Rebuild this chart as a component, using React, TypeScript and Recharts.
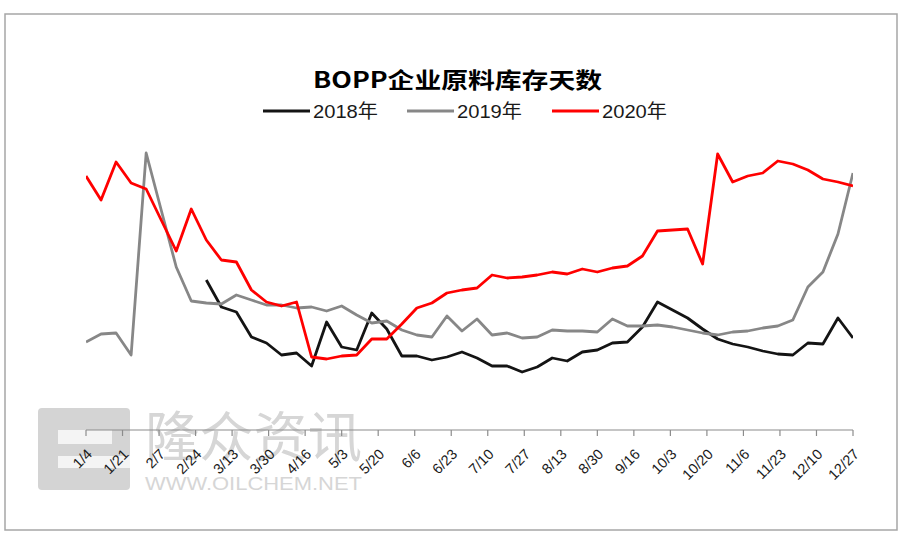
import React from 'react';
import { LineChart, Line, XAxis, YAxis, Legend } from 'recharts';

// weekly observation dates, day-of-year (1/4, 1/11, ... 12/27)
const weekDays: number[] = Array.from({ length: 52 }, (_, i) => 4 + 7 * i);

// BOPP企业原料库存天数 (days)
const series2018: (number | null)[] = [
  null, null, null, null, null, null, null, null,
  7.5, 6.15, 5.9, 4.65, 4.35, 3.75, 3.85, 3.2, 5.4, 4.15, 4.0, 5.85,
  5.05, 3.7, 3.7, 3.5, 3.65, 3.9, 3.6, 3.2, 3.2, 2.9, 3.15, 3.6,
  3.45, 3.9, 4.0, 4.35, 4.4, 5.15, 6.4, 6.0, 5.6, 5.05, 4.55, 4.3,
  4.15, 3.95, 3.8, 3.75, 4.35, 4.3, 5.6, 4.6,
];
const series2019: number[] = [
  4.4, 4.8, 4.85, 3.75, 13.85, 11.0, 8.15, 6.45, 6.35, 6.3, 6.75, 6.5,
  6.25, 6.25, 6.1, 6.15, 5.95, 6.2, 5.75, 5.35, 5.45, 5.0, 4.75, 4.65,
  5.7, 4.95, 5.55, 4.75, 4.85, 4.6, 4.65, 5.0, 4.95, 4.95, 4.9, 5.55,
  5.2, 5.2, 5.25, 5.15, 5.0, 4.85, 4.75, 4.9, 4.95, 5.1, 5.2, 5.5,
  7.15, 7.9, 9.8, 12.85,
];
const series2020: number[] = [
  12.7, 11.5, 13.4, 12.35, 12.05, 10.5, 8.95, 11.05, 9.5, 8.5, 8.4, 7.0,
  6.4, 6.2, 6.4, 3.65, 3.55, 3.7, 3.75, 4.55, 4.55, 5.3, 6.1, 6.35,
  6.85, 7.0, 7.1, 7.75, 7.6, 7.65, 7.75, 7.9, 7.8, 8.05, 7.9, 8.1,
  8.2, 8.7, 9.95, 10.0, 10.05, 8.3, 13.8, 12.4, 12.7, 12.85, 13.45, 13.3,
  13.0, 12.55, 12.4, 12.2,
];

const tickDays: number[] = [4, 21, 38, 55, 72, 89, 106, 123, 140, 157, 174, 191, 208, 225, 242, 259, 276, 293, 310, 327, 344, 361];
const tickLabels: string[] = ['1/4', '1/21', '2/7', '2/24', '3/13', '3/30', '4/16', '5/3', '5/20', '6/6', '6/23', '7/10', '7/27', '8/13', '8/30', '9/16', '10/3', '10/20', '11/6', '11/23', '12/10', '12/27'];

const seriesNames = ['2018年', '2019年', '2020年'];
const seriesColors = ['#141414', '#878787', '#ff0000'];

const data = weekDays.map((d, i) => ({
  day: d,
  y2018: series2018[i],
  y2019: series2019[i],
  y2020: series2020[i],
}));

const labelFor = (v: number) => {
  const idx = tickDays.indexOf(v);
  return idx >= 0 ? tickLabels[idx] : '';
};

const CustomTick = (props: any) => {
  const { x, y, payload } = props;
  return (
    <g transform={`translate(${x + 7},${y + 17})`}>
      <text
        x={0}
        y={0}
        textAnchor="end"
        transform="rotate(-45)"
        fontSize={14.5}
        fontFamily="'Liberation Sans', Arial, sans-serif"
        fill="#1a1a1a"
      >
        {labelFor(payload.value)}
      </text>
    </g>
  );
};

const legendX = [263, 407, 552];

const renderLegend = (props: any) => {
  const payload = props.payload || [];
  return (
    <svg width={912} height={24} style={{ display: 'block' }}>
      {payload.map((p: any, i: number) => (
        <g key={i}>
          <line x1={legendX[i]} x2={legendX[i] + 47} y1={12} y2={12} stroke={p.color} strokeWidth={3} />
          <text
            x={legendX[i] + 50}
            y={12}
            dy="0.36em"
            fontSize={19}
            textLength={65}
            lengthAdjust="spacingAndGlyphs"
            fontFamily="'Liberation Sans', 'Noto Sans CJK SC', sans-serif"
            fill="#1a1a1a"
          >
            {p.value}
          </text>
        </g>
      ))}
    </svg>
  );
};

export default function App() {
  return (
    <div style={{ position: 'absolute', left: 0, top: 0, width: 912, height: 541, background: '#fff' }}>
      <svg width={912} height={541} style={{ position: 'absolute', left: 0, top: 0 }}>
        <rect x={5} y={14} width={892} height={516} fill="#fff" stroke="#a6a6a6" strokeWidth={1.5} />
        {/* watermark */}
        <rect x={38} y={408} width={92} height={82} rx={4} fill="#d4d4d4" />
        <rect x={58} y={430} width={54} height={14} fill="#f4f4f4" />
        <rect x={58} y={456} width={72} height={12} fill="#f4f4f4" />
        <text
          x={145}
          y={457}
          fontSize={54}
          textLength={217}
          lengthAdjust="spacingAndGlyphs"
          fontFamily="'Noto Sans CJK SC', sans-serif"
          fill="#d6d6d6"
        >
          隆众资讯
        </text>
        <text
          x={145}
          y={490}
          fontSize={18}
          textLength={217}
          lengthAdjust="spacingAndGlyphs"
          fontFamily="'Liberation Sans', Arial, sans-serif"
          fill="#d6d6d6"
        >
          WWW.OILCHEM.NET
        </text>
        <text
          x={457.5}
          y={88}
          textAnchor="middle"
          fontSize={22}
          fontWeight="bold"
          textLength={289}
          lengthAdjust="spacingAndGlyphs"
          fontFamily="'Noto Sans CJK SC', sans-serif"
          fill="#000"
        >
          BOPP企业原料库存天数
        </text>
      </svg>
      <div style={{ position: 'absolute', left: 0, top: 0 }}>
        <LineChart
          width={912}
          height={541}
          data={data}
          margin={{ top: 150, right: 59, bottom: 81, left: 86 }}
        >
          <XAxis
            type="number"
            dataKey="day"
            domain={[4, 361]}
            ticks={tickDays}
            interval={0}
            height={30}
            tick={<CustomTick />}
            tickSize={6}
            axisLine={{ stroke: '#8c8c8c', strokeWidth: 1.2 }}
            tickLine={{ stroke: '#8c8c8c', strokeWidth: 1.2 }}
            allowDataOverflow
          />
          <YAxis hide domain={[0, 14]} width={0} />
          <Legend
            layout="horizontal"
            verticalAlign="middle"
            align="center"
            content={renderLegend}
            wrapperStyle={{ top: 99, left: 0, width: 912, height: 24 }}
          />
          <Line
            type="linear"
            dataKey="y2018"
            name={seriesNames[0]}
            stroke={seriesColors[0]}
            strokeWidth={2.8}
            strokeLinejoin="round"
            dot={false}
            activeDot={false}
            isAnimationActive={false}
          />
          <Line
            type="linear"
            dataKey="y2019"
            name={seriesNames[1]}
            stroke={seriesColors[1]}
            strokeWidth={2.8}
            strokeLinejoin="round"
            dot={false}
            activeDot={false}
            isAnimationActive={false}
          />
          <Line
            type="linear"
            dataKey="y2020"
            name={seriesNames[2]}
            stroke={seriesColors[2]}
            strokeWidth={2.8}
            strokeLinejoin="round"
            dot={false}
            activeDot={false}
            isAnimationActive={false}
          />
        </LineChart>
      </div>
    </div>
  );
}
